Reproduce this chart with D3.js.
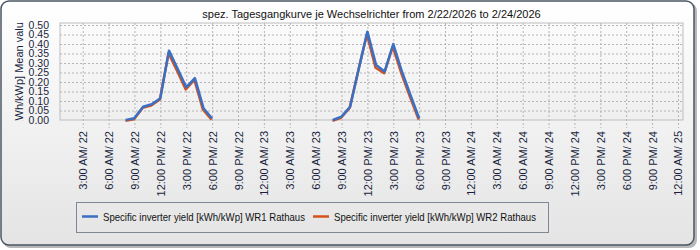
<!DOCTYPE html>
<html>
<head>
<meta charset="utf-8">
<script src="https://cdn.jsdelivr.net/npm/d3@7"></script>
<style>
  body { margin: 0; background: #fff; }
  text { font-family: "Liberation Sans", Arial, sans-serif; }
</style>
</head>
<body>
<div id="chart"></div>
<script>
// data
const titleText = "spez. Tagesgangkurve je Wechselrichter from 2/22/2026 to 2/24/2026";
const yAxisTitle = "[kWh/kWp] Mean value";
const seriesNames = ["Specific inverter yield [kWh/kWp] WR1 Rathaus", "Specific inverter yield [kWh/kWp] WR2 Rathaus"];
const hours = ["2026-02-22 08:00", "2026-02-22 09:00", "2026-02-22 10:00", "2026-02-22 11:00", "2026-02-22 12:00",
  "2026-02-22 13:00", "2026-02-22 14:00", "2026-02-22 15:00", "2026-02-22 16:00", "2026-02-22 17:00", "2026-02-22 18:00",
  "2026-02-22 19:00",
  "2026-02-23 07:00",
  "2026-02-23 08:00", "2026-02-23 09:00", "2026-02-23 10:00", "2026-02-23 11:00", "2026-02-23 12:00",
  "2026-02-23 13:00", "2026-02-23 14:00", "2026-02-23 15:00", "2026-02-23 16:00", "2026-02-23 17:00", "2026-02-23 18:00"];
const wr1 = [0.00, 0.01, 0.07, 0.083, 0.115, 0.365, 0.27, 0.172, 0.22, 0.062, 0.008, null, null,
  0.00, 0.018, 0.07, 0.27, 0.465, 0.29, 0.255, 0.40, 0.255, 0.13, 0.008];
const wr2 = [0.00, 0.008, 0.068, 0.08, 0.112, 0.356, 0.262, 0.165, 0.215, 0.058, 0.006, null, null,
  0.00, 0.016, 0.068, 0.265, 0.455, 0.279, 0.25, 0.39, 0.248, 0.125, 0.006];
const yTicks = [0, 0.05, 0.1, 0.15, 0.2, 0.25, 0.3, 0.35, 0.4, 0.45, 0.5];
const xStart = "2026-02-22 00:22", xEnd = "2026-02-25 00:35";
const colors = ["#3a6fc6", "#d4521e"];

const W = 700, H = 250;
const parse = d3.timeParse("%Y-%m-%d %H:%M");
const plot = { left: 60, right: 683, top: 23, bottom: 120 };

const svg = d3.select("#chart").append("svg")
  .attr("width", W).attr("height", H);

const defs = svg.append("defs");
const bg = defs.append("linearGradient").attr("id", "bg").attr("x1", 0).attr("y1", 0).attr("x2", 0).attr("y2", 1);
bg.append("stop").attr("offset", "0%").attr("stop-color", "#ffffff");
bg.append("stop").attr("offset", "100%").attr("stop-color", "#e4e4e4");
const pbg = defs.append("linearGradient").attr("id", "pbg").attr("x1", 0).attr("y1", 0).attr("x2", 0).attr("y2", 1);
pbg.append("stop").attr("offset", "0%").attr("stop-color", "#fbfbfb");
pbg.append("stop").attr("offset", "100%").attr("stop-color", "#efefef");
defs.append("clipPath").attr("id", "yclip")
  .append("rect").attr("x", 0).attr("y", 22).attr("width", 40).attr("height", 99);

// frame with shadow
svg.append("rect").attr("x", 3).attr("y", 3).attr("width", 694).attr("height", 245)
  .attr("rx", 8).attr("fill", "#b8b8b8");
svg.append("rect").attr("x", 1).attr("y", 1).attr("width", 693).attr("height", 244)
  .attr("rx", 8).attr("fill", "url(#bg)").attr("stroke", "#4b5661").attr("stroke-width", 1.5);

const x = d3.scaleTime().domain([parse(xStart), parse(xEnd)]).range([plot.left, plot.right]);
const y = d3.scaleLinear().domain([0, 0.5]).range([plot.bottom, 25]);

svg.append("rect").attr("x", plot.left).attr("y", plot.top)
  .attr("width", plot.right - plot.left).attr("height", plot.bottom - plot.top)
  .attr("fill", "url(#pbg)").attr("stroke", "#bdbdbd");

// title
svg.append("text").attr("x", (plot.left + plot.right) / 2).attr("y", 18)
  .attr("text-anchor", "middle").attr("font-size", "11px").attr("fill", "#111")
  .text(titleText);

// y axis
svg.append("g")
  .attr("transform", `translate(${plot.left},0)`)
  .call(d3.axisLeft(y).tickValues(yTicks).tickFormat(d3.format(".2f"))
    .tickSize(-(plot.right - plot.left)).tickPadding(11))
  .call(g => g.select(".domain").remove())
  .call(g => g.selectAll(".tick line").attr("stroke", "#b4b4b4").attr("stroke-dasharray", "2,2")
    .attr("opacity", d => d === 0 ? 0 : 1))
  .call(g => g.selectAll(".tick text").attr("fill", "#1a1f40").attr("font-size", "10.5px")
    .attr("font-family", "Liberation Sans, Arial, sans-serif"));

// y axis title (clipped like the original)
svg.append("g").attr("clip-path", "url(#yclip)")
  .append("text")
  .attr("transform", `translate(23,${(plot.top + plot.bottom) / 2 + 1}) rotate(-90)`)
  .attr("text-anchor", "middle").attr("font-size", "11px").attr("fill", "#1a1f40")
  .text(yAxisTitle);

// x axis
const xTicks = d3.timeHour.every(3).range(parse("2026-02-22 03:00"), parse("2026-02-25 00:01"));
svg.append("g")
  .attr("transform", `translate(0,${plot.bottom})`)
  .call(d3.axisBottom(x).tickValues(xTicks).tickFormat(d3.timeFormat("%-I:%M %p/ %d"))
    .tickSizeInner(-(plot.bottom - plot.top)).tickSizeOuter(0).tickPadding(0))
  .call(g => g.select(".domain").remove())
  .call(g => g.selectAll(".tick line").attr("stroke", "#b4b4b4").attr("stroke-dasharray", "2,2")
    .attr("y2", 8).attr("y1", -(plot.bottom - plot.top)))
  .call(g => g.selectAll(".tick text")
    .attr("fill", "#1a1f40").attr("font-size", "11px")
    .attr("font-family", "Liberation Sans, Arial, sans-serif")
    .attr("text-anchor", "end").attr("dy", null).attr("y", 0)
    .attr("transform", "translate(4,11) rotate(-90)"));

// lines (WR2 first so WR1 sits on top)
const line = d3.line()
  .defined(d => d.v !== null)
  .x(d => x(d.t)).y(d => y(d.v));
[1, 0].forEach(i => {
  const vals = i === 0 ? wr1 : wr2;
  svg.append("path")
    .datum(hours.map((h, k) => ({ t: parse(h), v: vals[k] })))
    .attr("fill", "none").attr("stroke", colors[i]).attr("stroke-width", 2.5)
    .attr("stroke-linejoin", "round")
    .attr("transform", i === 1 ? "translate(-0.5,0.8)" : null)
    .attr("d", line);
});

// legend
const leg = svg.append("g");
leg.append("rect").attr("x", 76.5).attr("y", 202.5).attr("width", 472).attr("height", 30)
  .attr("fill", "none").attr("stroke", "#7d8894");
const legX = [[82, 103], [313, 334]];
seriesNames.forEach((name, i) => {
  leg.append("line").attr("x1", legX[i][0]).attr("x2", legX[i][0] + 16)
    .attr("y1", 216.5).attr("y2", 216.5).attr("stroke", colors[i]).attr("stroke-width", 2.5);
  leg.append("text").attr("x", legX[i][1]).attr("y", 220.5)
    .attr("font-size", "10.5px").attr("fill", "#111")
    .attr("textLength", 202).attr("lengthAdjust", "spacingAndGlyphs")
    .text(name);
});
</script>
</body>
</html>
